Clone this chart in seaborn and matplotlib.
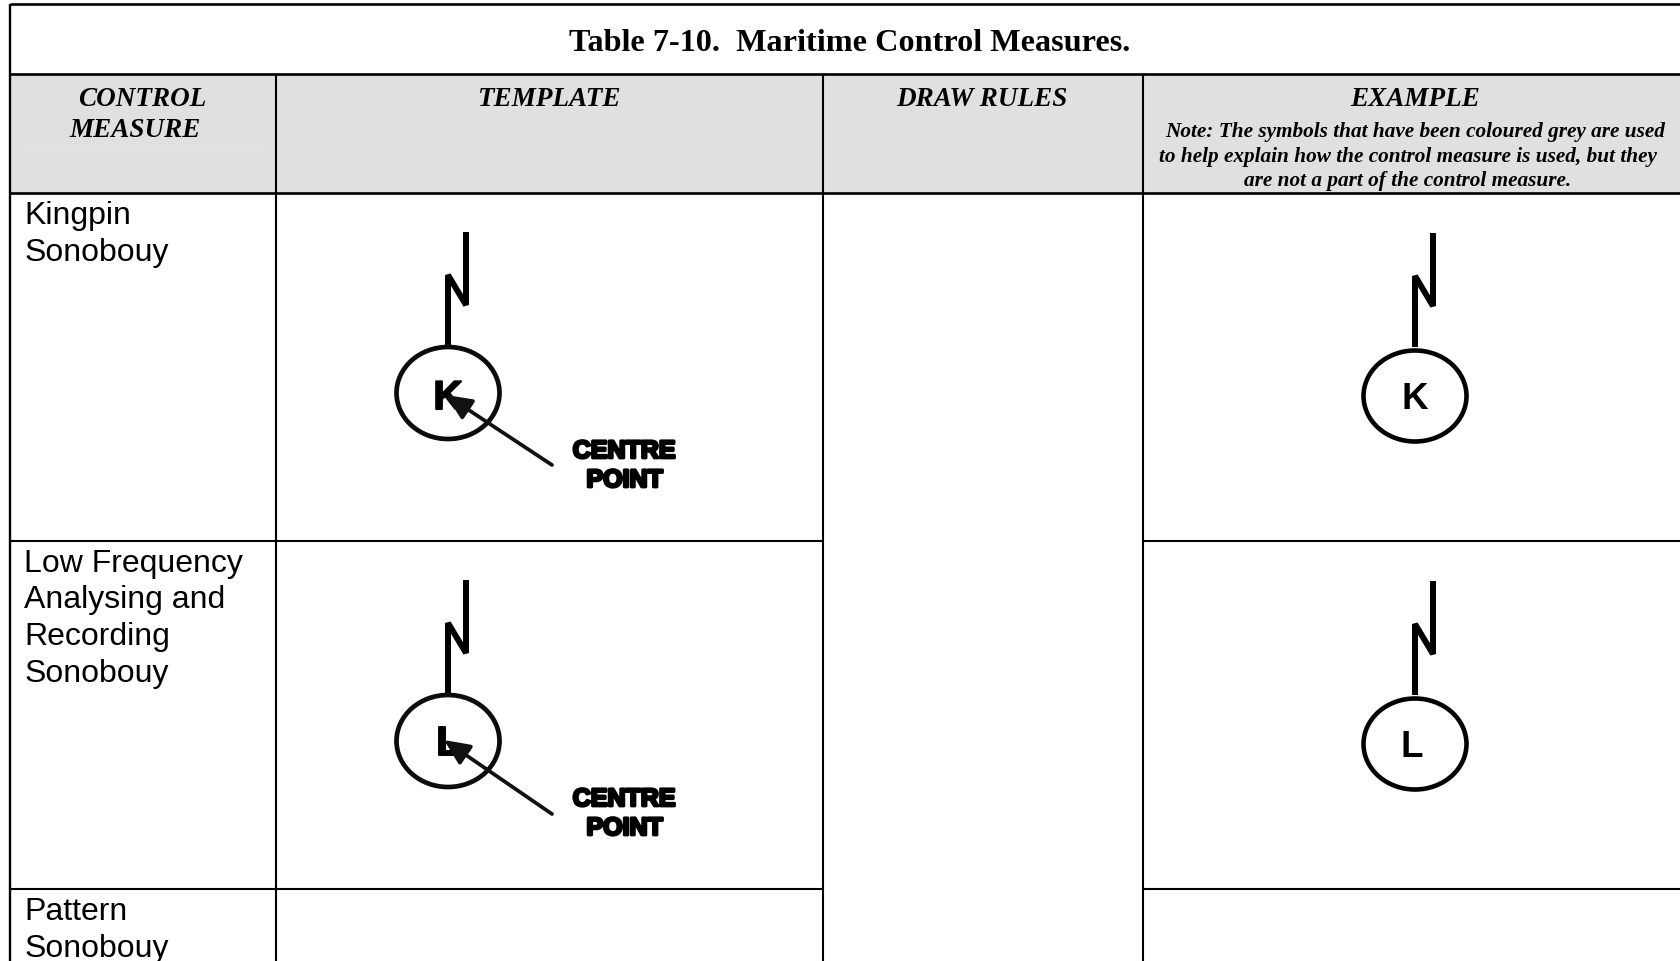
import matplotlib
matplotlib.use("Agg")
import matplotlib.pyplot as plt
import matplotlib.patheffects as pe
from matplotlib.patches import Ellipse, Rectangle
import seaborn as sns

# ---- text content ----
title = "Table 7-10.  Maritime Control Measures."
head_control = ["CONTROL", "MEASURE"]
head_others = ["TEMPLATE", "DRAW RULES", "EXAMPLE"]
note_lines = ["Note: The symbols that have been coloured grey are used",
              "to help explain how the control measure is used, but they",
              "are not a part of the control measure."]
row_labels = [["Kingpin", "Sonobouy"],
              ["Low Frequency", "Analysing and", "Recording", "Sonobouy"],
              ["Pattern", "Sonobouy"]]
symbol_letters = ["K", "L"]
callout = ["CENTRE", "POINT"]

# ---- table layout, in pixels of the picture ----
W, H = 1681, 962
col_x = [10, 276, 823, 1143]
row_y = [5, 75, 194, 542, 890]
row_baselines = [[224, 261], [572, 608, 645, 682], [920, 957]]
row_shift = 348

sns.set_theme(style="white", rc={"axes.facecolor": "white", "figure.facecolor": "white"})
SANS = ["Liberation Sans", "DejaVu Sans"]
SERIF = ["Liberation Serif", "DejaVu Serif"]

fig = plt.figure(figsize=(W / 100, H / 100), dpi=100)
ax = fig.add_axes([0, 0, 1, 1])
ax.set_xlim(0, W)
ax.set_ylim(H, 0)
ax.axis("off")

# header fill and faint rule
ax.add_patch(Rectangle((col_x[0], row_y[1]), W - col_x[0], row_y[2] - row_y[1],
                       facecolor="#e0e0e0", edgecolor="none", zorder=0))
ax.hlines(145, 24, 262, color="#e6e6e6", lw=0.7, zorder=1)

# rules
RULE = dict(color="black", lw=1.5, zorder=2)
ax.hlines(row_y[0], col_x[0], W, color="black", lw=1.9, zorder=2)
ax.hlines(row_y[1], col_x[0], W, color="black", lw=1.9, zorder=2)
ax.hlines(row_y[2], col_x[0], W, color="black", lw=1.9, zorder=2)
for y in row_y[3:]:
    ax.hlines(y, col_x[0], col_x[2], **RULE)
    ax.hlines(y, col_x[3], W, **RULE)
ax.vlines(col_x[0], row_y[0], H, color="black", lw=1.7, zorder=2)
for x in col_x[1:]:
    ax.vlines(x, row_y[1], H, **RULE)

# title
ax.text(850, 51, title, family=SERIF, weight="bold", fontsize=23.25, ha="center",
        va="baseline", color="black")

# header
HEAD = dict(family=SERIF, weight="bold", style="italic", fontsize=19.5, va="baseline",
            ha="center", color="black")
ax.text(142, 106, head_control[0], **HEAD)
ax.text(135, 137, head_control[1], **HEAD)
for x, label in zip([549, 982, 1415], head_others):
    ax.text(x, 106, label, **HEAD)
NOTE = dict(HEAD, fontsize=15.35)
for x, y, line in zip([1415, 1408, 1408], [137, 162, 186], note_lines):
    ax.text(x, y, line, **NOTE)

# first column
for lines, bases in zip(row_labels, row_baselines):
    for line, y in zip(lines, bases):
        ax.text(24.5, y, line, family=SANS, fontsize=23, va="baseline", ha="left", color="black")


def antenna(cx_low, cx_high, y_top, y_low_tip, y_up_tip, y_end, lw):
    """Lightning-bolt mast of the sonobuoy symbol."""
    sns.lineplot(x=[cx_high, cx_high, cx_low, cx_low], y=[y_top, y_low_tip, y_up_tip, y_end],
                 sort=False, estimator=None, color="black", linewidth=lw, ax=ax,
                 solid_joinstyle="bevel", solid_capstyle="butt", zorder=3, legend=False)


# template symbols
for i, letter in enumerate(symbol_letters):
    dy = i * row_shift
    antenna(448, 466, 233 + dy, 306 + dy, 276 + dy, 347 + dy, 4.3)
    ax.add_patch(Ellipse((448, 394 + dy), 103, 92, fill=False, edgecolor="#0c0c0c", lw=3.4, zorder=3))
    ax.text(448 if i == 0 else 449, (399 if i == 0 else 397) + dy, letter, family=SANS, weight="bold", fontsize=29,
            ha="center", va="center", color="black", zorder=4,
            path_effects=[pe.withStroke(linewidth=1.4, foreground="black")])
    ax.annotate("", xy=(446 if i == 0 else 444, 396 + dy if i == 0 else 393 + dy),
                xytext=(552, 466 + (0 if i == 0 else 1) + dy),
                arrowprops=dict(arrowstyle="-|>,head_length=1.1,head_width=0.5", color="#111111",
                                lw=2.7, mutation_scale=14, shrinkA=0, shrinkB=0), zorder=5)
    for word, x, y in zip(callout, [624, 624.5], [459, 488]):
        ax.text(x, y + dy, word, family=SANS, weight="bold", fontsize=18, ha="center",
                va="baseline", color="black",
                path_effects=[pe.withStroke(linewidth=2.0, foreground="black")], zorder=4)

# example symbols
for i, letter in enumerate(symbol_letters):
    dy = i * row_shift
    antenna(1415, 1433, 234 + dy, 307 + dy, 277 + dy, 348 + dy, 4.3)
    ax.add_patch(Ellipse((1415, 397 + dy), 103, 91, fill=False, edgecolor="black", lw=3.3, zorder=3))
    ax.text(1415 if i == 0 else 1412, 400 + dy, letter, family=SANS, weight="bold", fontsize=26.5,
            ha="center", va="center", color="black", zorder=4)

fig.savefig("out.png", dpi=100, facecolor="white")
